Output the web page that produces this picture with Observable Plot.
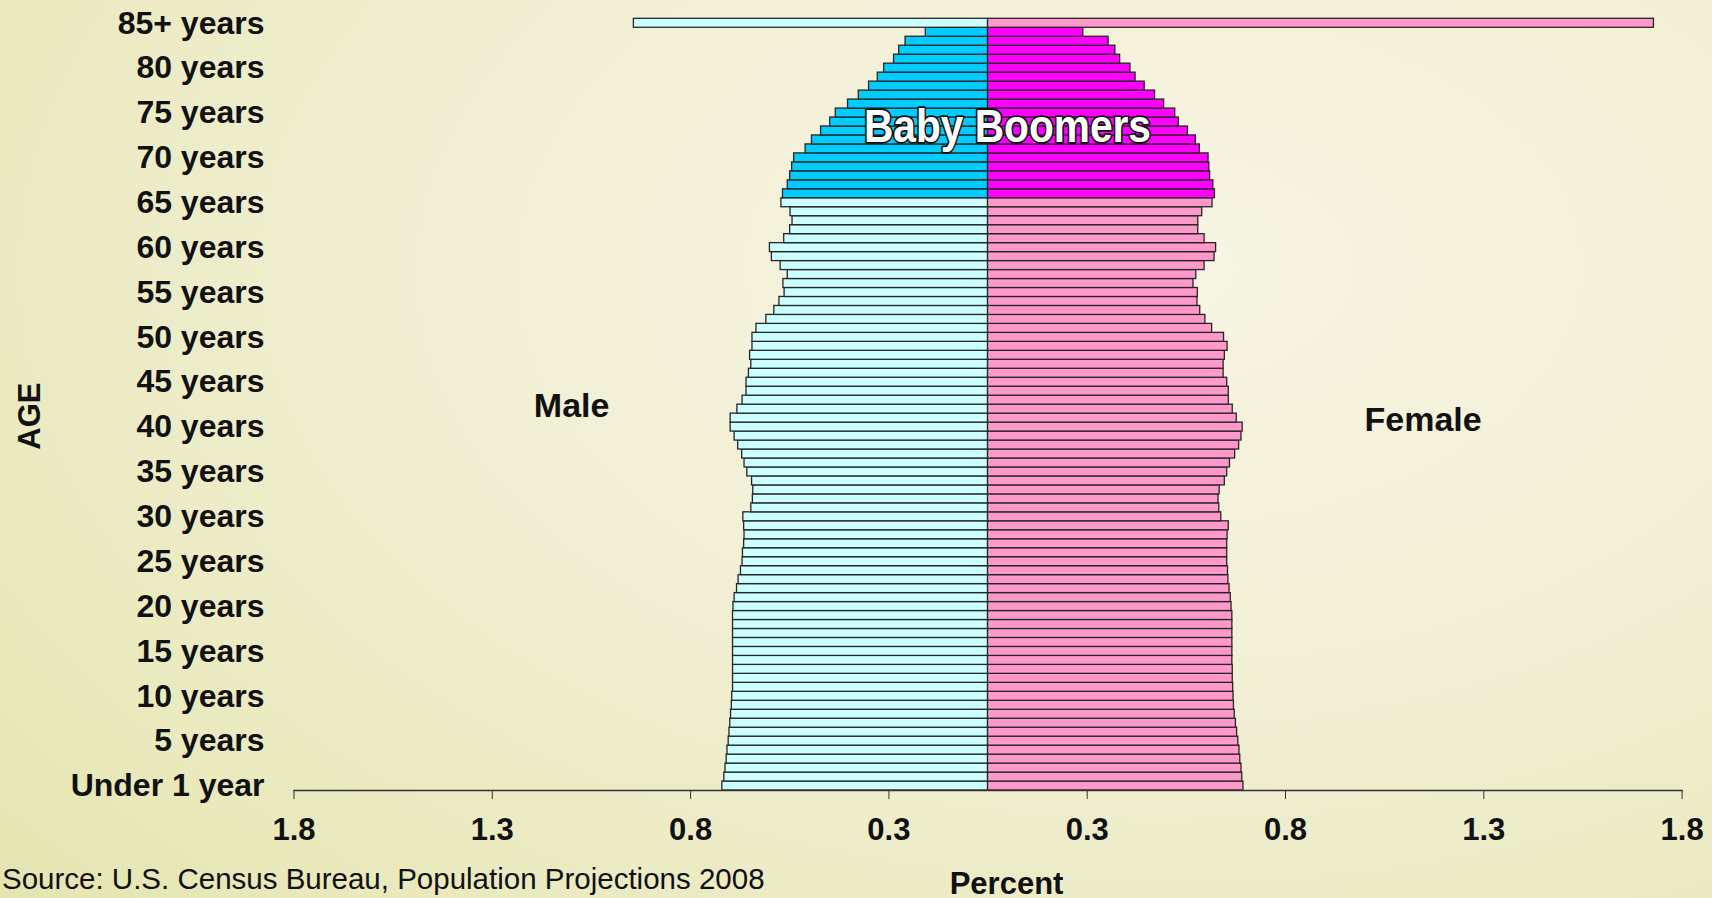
<!DOCTYPE html>
<html>
<head>
<meta charset="utf-8">
<script src="https://cdn.jsdelivr.net/npm/d3@7"></script>
<script src="https://cdn.jsdelivr.net/npm/@observablehq/plot@0.6"></script>
<style>
  html, body { margin: 0; padding: 0; width: 1712px; height: 898px; overflow: hidden; }
  body {
    background: radial-gradient(ellipse 95% 110% at 68% 30%, #f7f5e4 0%, #f1efd3 45%, #e9e9bc 80%, #e2e4ad 100%);
    font-family: "Liberation Sans", Arial, sans-serif;
  }
  #chart { position: absolute; left: 0; top: 0; }
</style>
</head>
<body>
<div id="chart"></div>
<script>
// Age categories, top (85+) to bottom (Under 1 year)
const ageCategories = ["85+", ...d3.range(84, -1, -1).map(String)];
// Ages in ascending order matching the value arrays below
const agesAscending = [...d3.range(0, 85).map(String), "85+"];

// Percent of total population, ages 0 .. 84, then 85+
const maleValues = [
  0.670, 0.665, 0.662, 0.659, 0.657, 0.654, 0.652, 0.650, 0.648, 0.646,
  0.645, 0.643, 0.643, 0.643, 0.643, 0.643, 0.643, 0.643, 0.643, 0.643,
  0.642, 0.639, 0.633, 0.629, 0.623, 0.619, 0.618, 0.615, 0.614, 0.615,
  0.617, 0.597, 0.593, 0.592, 0.595, 0.607, 0.614, 0.620, 0.630, 0.639,
  0.649, 0.649, 0.632, 0.619, 0.609, 0.609, 0.603, 0.597, 0.600, 0.594,
  0.594, 0.584, 0.559, 0.539, 0.526, 0.513, 0.516, 0.505, 0.523, 0.545,
  0.550, 0.514, 0.499, 0.493, 0.498, 0.521, 0.517, 0.505, 0.499, 0.494,
  0.489, 0.460, 0.444, 0.421, 0.398, 0.384, 0.353, 0.326, 0.300, 0.278,
  0.262, 0.237, 0.224, 0.208, 0.157,
  0.893
];
const femaleValues = [
  0.644, 0.641, 0.639, 0.636, 0.634, 0.631, 0.628, 0.625, 0.622, 0.620,
  0.619, 0.618, 0.617, 0.617, 0.616, 0.616, 0.616, 0.616, 0.616, 0.616,
  0.614, 0.612, 0.609, 0.606, 0.605, 0.603, 0.603, 0.603, 0.604, 0.607,
  0.588, 0.583, 0.581, 0.584, 0.597, 0.603, 0.610, 0.623, 0.633, 0.639,
  0.642, 0.627, 0.617, 0.607, 0.607, 0.603, 0.594, 0.594, 0.597, 0.604,
  0.595, 0.565, 0.548, 0.535, 0.528, 0.529, 0.518, 0.525, 0.546, 0.571,
  0.575, 0.546, 0.530, 0.530, 0.540, 0.566, 0.572, 0.568, 0.560, 0.558,
  0.556, 0.534, 0.524, 0.504, 0.481, 0.472, 0.444, 0.421, 0.395, 0.372,
  0.359, 0.333, 0.321, 0.304, 0.240,
  1.679
];
// Baby boomer cohort (highlighted)
const boomerAges = ["66","67","68","69","70","71","72","73","74","75","76","77","78","79","80","81","82","83","84"];

// Axis ticks
const xTicks = [-1.75, -1.25, -0.75, -0.25, 0.25, 0.75, 1.25, 1.75];
const xTickLabels = ["1.8", "1.3", "0.8", "0.3", "0.3", "0.8", "1.3", "1.8"];
const yTickAges = ["0","5","10","15","20","25","30","35","40","45","50","55","60","65","70","75","80","85+"];
const yTickLabels = ["Under 1 year","5 years","10 years","15 years","20 years","25 years","30 years","35 years","40 years","45 years","50 years","55 years","60 years","65 years","70 years","75 years","80 years","85+ years"];

const colors = { male: "#ccffff", maleBoomer: "#00ccff", female: "#ff99cc", femaleBoomer: "#ff00ff" };

const rows = agesAscending.map((age, i) => ({
  age, male: maleValues[i], female: femaleValues[i], boomer: boomerAges.includes(age)
}));

const maleLabel = [{ label: "Male", x: -1.05, age: "42" }];
const femaleLabel = [{ label: "Female", x: 1.097, age: "41" }];
const boomerLabel = [{ label: "Baby Boomers", x: 0.049, age: "73" }];

const chart = Plot.plot({
  width: 1712,
  height: 898,
  marginLeft: 293.5,
  marginRight: 30.4,
  marginTop: 18.3,
  marginBottom: 108,
  style: { background: "transparent", fontFamily: "'Liberation Sans', Arial, sans-serif", fontSize: "31px", fontWeight: "bold", color: "#111", overflow: "visible" },
  x: { domain: [-1.75, 1.75] },
  y: { type: "band", domain: ageCategories, padding: 0 },
  marks: [
    Plot.barX(rows, { y: "age", x: d => -d.male, fill: d => d.boomer ? colors.maleBoomer : colors.male, stroke: "#262626", strokeWidth: 1.3 }),
    Plot.barX(rows, { y: "age", x: "female", fill: d => d.boomer ? colors.femaleBoomer : colors.female, stroke: "#262626", strokeWidth: 1.3 }),
    Plot.frame({ anchor: "bottom", stroke: "#333", strokeWidth: 1.5 }),
    Plot.axisX({ ticks: xTicks, tickFormat: d => xTickLabels[xTicks.indexOf(d)], tickSize: 9, tickPadding: 18, label: null, stroke: "#333", fill: "#111" }),
    Plot.axisY({ ticks: yTickAges, tickFormat: d => yTickLabels[yTickAges.indexOf(d)], tickSize: 0, tickPadding: 29.5, label: null, fill: "#111", fontSize: 32 }),
    Plot.text(maleLabel, { x: "x", y: "age", text: "label", dy: -3, fontSize: 34, fill: "#111" }),
    Plot.text(femaleLabel, { x: "x", y: "age", text: "label", dy: 2, fontSize: 34, fill: "#111" }),
    Plot.text(boomerLabel, { x: "x", y: "age", text: "label", dy: -4, fontSize: 46, fill: "white", stroke: "#111", strokeWidth: 3.5, paintOrder: "stroke" }),
    Plot.text(["AGE"], { text: d => d, frameAnchor: "left", rotate: -90, dx: -264, dy: 45, fontSize: 31, fill: "#111" }),
    Plot.text(["Percent"], { text: d => d, frameAnchor: "bottom", lineAnchor: "bottom", dx: 18.5, dy: 103, fontSize: 31, fill: "#111" }),
    Plot.text(["Source: U.S. Census Bureau, Population Projections 2008"], { text: d => d, frameAnchor: "bottom-left", textAnchor: "start", lineAnchor: "bottom", dx: -292, dy: 98, fontSize: 29.5, fontWeight: "normal", fill: "#111" })
  ]
});

document.getElementById("chart").appendChild(chart);

// Condensed look of the "Baby Boomers" label
d3.select(chart).selectAll("text")
  .filter(function () { return this.textContent === "Baby Boomers"; })
  .attr("textLength", 287)
  .attr("lengthAdjust", "spacingAndGlyphs");
</script>
</body>
</html>
